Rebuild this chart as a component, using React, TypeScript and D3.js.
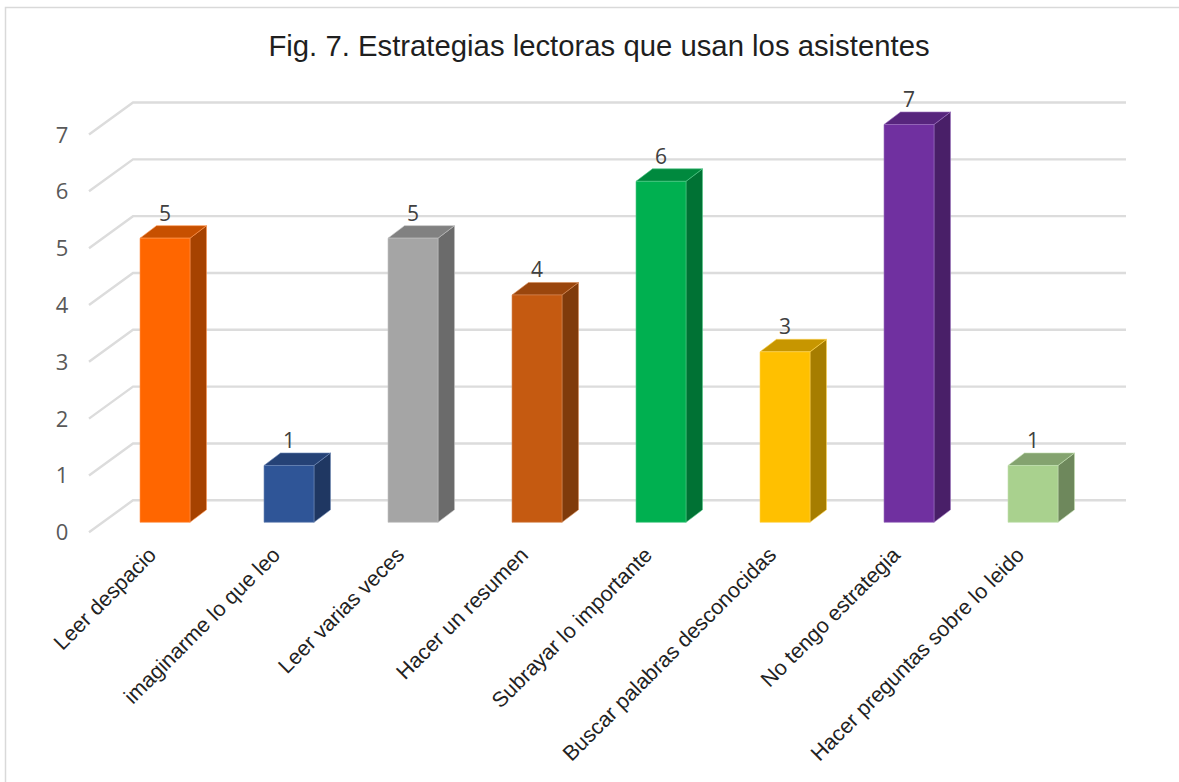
import * as d3 from "d3";

const title = "Fig. 7. Estrategias lectoras que usan los asistentes";
const categories = [
  "Leer despacio",
  "imaginarme lo que leo",
  "Leer varias veces",
  "Hacer un resumen",
  "Subrayar lo importante",
  "Buscar palabras desconocidas",
  "No tengo estrategia",
  "Hacer preguntas sobre lo leido",
];
const values = [5, 1, 5, 4, 6, 3, 7, 1];
const colors = ["#FF6600", "#2F5597", "#A5A5A5", "#C55A11", "#00B050", "#FFC000", "#7030A0", "#A9D18E"];
const ticks = [0, 1, 2, 3, 4, 5, 6, 7];

const width = 1179;
const height = 782;

// depth of the fake 3d
const barDx = 16.5;
const barDy = 12.5;
const wallDx = 44;
const wallDy = 32;

const shade = (c: string, k: number) => {
  const r = d3.rgb(c);
  return d3.rgb(r.r * k, r.g * k, r.b * k).formatHex();
};

export default function App() {
  const x = d3
    .scaleBand<string>()
    .domain(categories)
    .range([103, 1095])
    .paddingInner(0.597)
    .paddingOuter(0.2985);
  const y = d3.scaleLinear([0, 7], [522.3, 124.5]);

  const grid = d3.line();

  return (
    <svg
      width={width}
      height={height}
      style={{ position: "absolute", left: 0, top: 0, background: "#fff" }}
    >
      <path
        d={`M5.5,${height}V7.5H${width}`}
        fill="none"
        stroke="#d9d9d9"
        strokeWidth={1.5}
      />
      <text
        x={599}
        y={56}
        textAnchor="middle"
        fontFamily="Liberation Sans"
        fontSize={29.3}
        fill="#1f1f1f"
      >
        {title}
      </text>

      {ticks.map((t) => {
        const yFront = y(t) + 10;
        return (
          <g key={t}>
            <path
              d={
                grid([
                  [89, yFront],
                  [89 + wallDx, yFront - wallDy],
                  [1126, yFront - wallDy],
                ])!
              }
              fill="none"
              stroke="#dcdcdc"
              strokeWidth={2.4}
            />
            <text
              x={62}
              y={yFront + 8}
              textAnchor="middle"
              fontFamily="Open Sans"
              fontSize={22}
              fill="#595959"
            >
              {t}
            </text>
          </g>
        );
      })}

      {categories.map((c, i) => {
        const x0 = x(c)!;
        const w = x.bandwidth();
        const top = y(values[i]);
        const base = y(0);
        const edge = d3.interpolateRgb(colors[i], "#fff")(0.3);
        return (
          <g key={c} stroke={edge} strokeWidth={0.6} strokeLinejoin="round">
            <path
              d={`M${x0 + w},${top}l${barDx},${-barDy}V${base - barDy}L${x0 + w},${base}Z`}
              fill={shade(colors[i], 0.65)}
            />
            <path
              d={`M${x0},${top}l${barDx},${-barDy}h${w}l${-barDx},${barDy}Z`}
              fill={shade(colors[i], 0.78)}
            />
            <rect x={x0} y={top} width={w} height={base - top} fill={colors[i]} />
            <text
              x={x0 + w / 2}
              y={top - 17.5}
              textAnchor="middle"
              fontFamily="Open Sans"
              fontSize={21}
              fill="#404040"
              stroke="none"
            >
              {values[i]}
            </text>
            <text
              transform={`translate(${x0 + w / 2 - 7.5},${base + 34}) rotate(-45)`}
              textAnchor="end"
              fontFamily="Liberation Sans"
              fontSize={21.4}
              fill="#222"
              stroke="none"
            >
              {c}
            </text>
          </g>
        );
      })}
    </svg>
  );
}
